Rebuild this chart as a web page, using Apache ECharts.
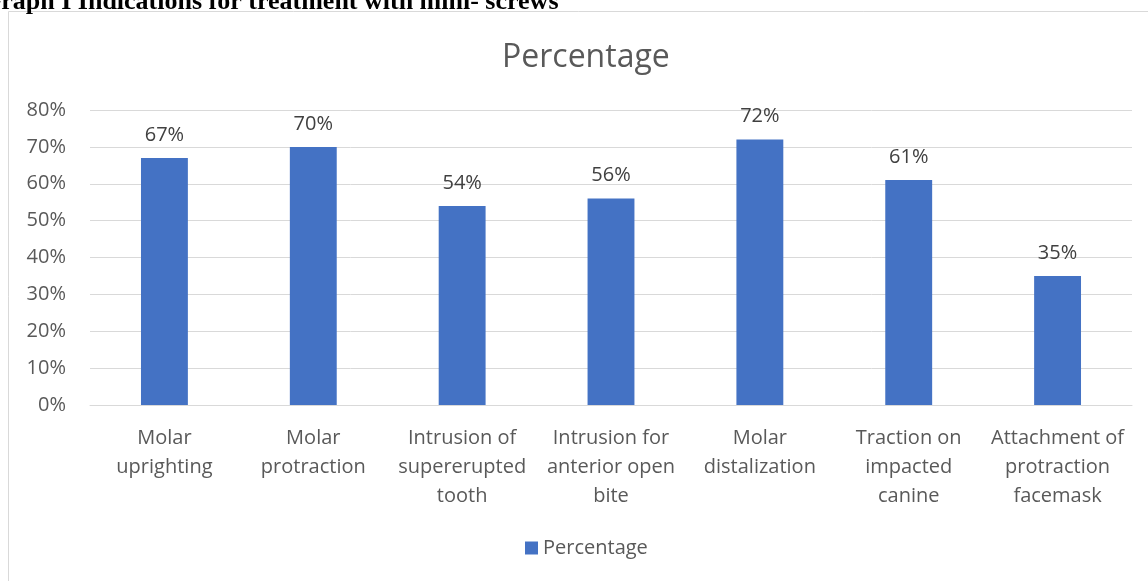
<!DOCTYPE html>
<html>
<head>
<meta charset="utf-8">
<script src="https://cdn.jsdelivr.net/npm/echarts@6/dist/echarts.min.js"></script>
<style>
html,body{margin:0;padding:0;background:#fff;}
#chart{width:1148px;height:581px;}
</style>
</head>
<body>
<div id="chart"></div>
<script>
// Indications for treatment with mini-screws
const categories = [
  'Molar\nuprighting',
  'Molar\nprotraction',
  'Intrusion of\nsupererupted\ntooth',
  'Intrusion for\nanterior open\nbite',
  'Molar\ndistalization',
  'Traction on\nimpacted\ncanine',
  'Attachment of\nprotraction\nfacemask'
];
const percentages = [67, 70, 54, 56, 72, 61, 35];
const yMin = 0, yMax = 80, yStep = 10;
const seriesName = 'Percentage';
const captionText = 'Graph I Indications for treatment with mini- screws';

const FONT = '"Open Sans", sans-serif';
const chart = echarts.init(document.getElementById('chart'), null, {renderer: 'canvas'});
chart.setOption({
  animation: false,
  backgroundColor: '#fff',
  textStyle: {fontFamily: FONT},
  graphic: [
    {type: 'rect', shape: {x: 8.5, y: 11.5, width: 1200, height: 600},
     style: {fill: 'none', stroke: '#d9d9d9', lineWidth: 1}, silent: true},
    {type: 'text', left: -19, top: -11,
     style: {text: captionText, font: 'bold 26px "Liberation Serif", serif', fill: '#000'}}
  ],
  title: {
    text: seriesName, left: 497, top: 37,
    textStyle: {fontFamily: FONT, fontSize: 32, fontWeight: 'normal', color: '#595959'}
  },
  legend: {
    bottom: 18, left: 520, itemWidth: 13, itemHeight: 13, itemGap: 8,
    icon: 'rect',
    textStyle: {fontFamily: FONT, fontSize: 20, color: '#595959'},
    data: [seriesName]
  },
  grid: {left: 90, right: 16, top: 110, bottom: 176, containLabel: false},
  xAxis: {
    type: 'category', data: categories,
    axisLine: {show: true, lineStyle: {color: '#d9d9d9', width: 1}},
    axisTick: {show: false},
    axisLabel: {fontFamily: FONT, fontSize: 20, color: '#595959', lineHeight: 29, margin: 19, interval: 0}
  },
  yAxis: {
    type: 'value', min: yMin, max: yMax, interval: yStep,
    axisLine: {show: false}, axisTick: {show: false},
    splitLine: {lineStyle: {color: '#d9d9d9', width: 1}},
    axisLabel: {fontFamily: FONT, fontSize: 20, color: '#595959', margin: 24, formatter: '{value}%'}
  },
  series: [{
    name: seriesName, type: 'bar', data: percentages, barWidth: '31.5%',
    itemStyle: {color: '#4472C4'},
    label: {show: true, position: 'top', distance: 13, formatter: '{c}%',
            fontFamily: FONT, fontSize: 20, color: '#404040'}
  }]
});
</script>
</body>
</html>
